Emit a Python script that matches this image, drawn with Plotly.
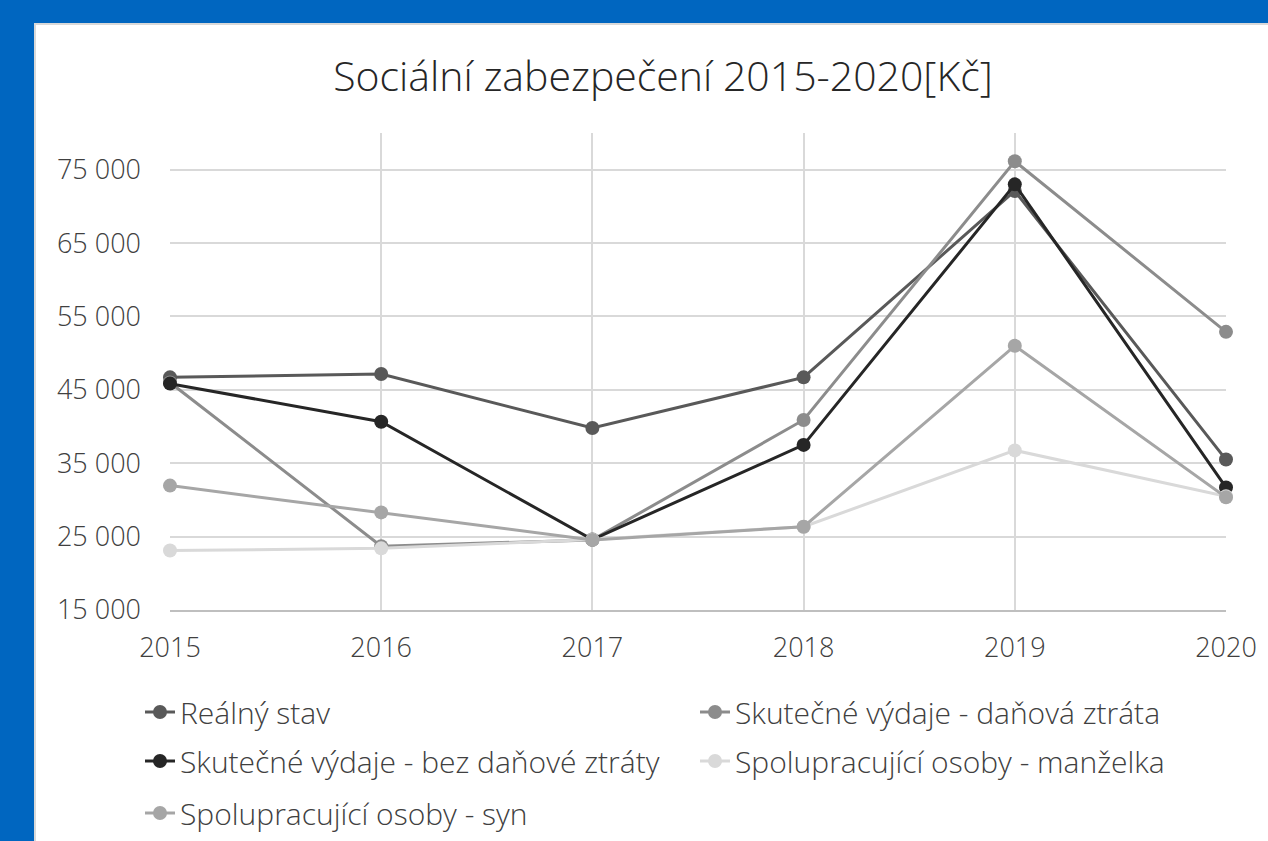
import plotly.graph_objects as go

years = [2015, 2016, 2017, 2018, 2019, 2020]
realny_stav = [46700, 47150, 39800, 46700, 72100, 35500]
danova_ztrata = [46000, 23700, 24550, 40900, 76150, 52900]
bez_danove_ztraty = [45850, 40650, 24600, 37500, 73000, 31700]
manzelka = [23100, 23400, 24600, 26350, 36750, 30500]
syn = [31950, 28300, 24550, 26350, 51000, 30350]

series_names = [
    "Reálný stav",
    "Skutečné výdaje - daňová ztráta",
    "Skutečné výdaje - bez daňové ztráty",
    "Spolupracující osoby - manželka",
    "Spolupracující osoby - syn",
]
series_values = [realny_stav, danova_ztrata, bez_danove_ztraty, manzelka, syn]
series_colors = ["#595959", "#8c8c8c", "#262626", "#d9d9d9", "#a6a6a6"]
series_legends = ["legend", "legend", "legend2", "legend2", "legend3"]

y_tickvals = [15000, 25000, 35000, 45000, 55000, 65000, 75000]
y_ticktext = ["15 000", "25 000", "35 000", "45 000", "55 000", "65 000", "75 000"]
x_ticktext = ["2015", "2016", "2017", "2018", "2019", "2020"]

title_text = "Sociální zabezpečení 2015-2020[Kč]"

FONT = "Open Sans"

fig = go.Figure()
for name, vals, col, lg in zip(series_names, series_values, series_colors, series_legends):
    fig.add_trace(go.Scatter(
        x=years, y=vals, name=name, mode="lines+markers",
        line=dict(color=col, width=3),
        marker=dict(color=col, size=14),
        cliponaxis=False,
        legend=lg,
    ))

# plot area: x 170..1226, y 133..609.5
L, R, T, B = 170, 42, 133, 231
W, H = 1268, 841
pw, ph = W - L - R, H - T - B

def px_x(x):
    return (x - L) / pw

def px_y(y):
    return (H - B - y) / ph

legend_common = dict(
    orientation="h", xanchor="left", yanchor="middle",
    entrywidth=510, entrywidthmode="pixels",
    font=dict(family=FONT, size=30, color="#404040", weight=300),
    bgcolor="rgba(0,0,0,0)", borderwidth=0,
)

fig.update_layout(
    width=W, height=H,
    margin=dict(l=L, r=R, t=T, b=B, pad=0, autoexpand=False),
    paper_bgcolor="#0066C0",
    plot_bgcolor="white",
    title=dict(text=title_text, x=663 / W, xref="container", xanchor="center",
               y=1 - 77 / H, yref="container", yanchor="middle",
               font=dict(family=FONT, size=41, color="#262626", weight=300)),
    shapes=[dict(type="rect", xref="paper", yref="paper", layer="below",
                 x0=px_x(35), x1=px_x(1275), y0=px_y(850), y1=px_y(24),
                 fillcolor="white", line=dict(color="#d9d9d9", width=2))],
    legend=dict(x=px_x(140), y=px_y(712), **legend_common),
    legend2=dict(x=px_x(140), y=px_y(761), **legend_common),
    legend3=dict(x=px_x(140), y=px_y(813), **legend_common),
    showlegend=True,
)

fig.update_xaxes(
    range=[2015, 2020], tickvals=years, ticktext=x_ticktext,
    showgrid=True, gridcolor="#d9d9d9", gridwidth=2,
    showline=True, linecolor="#bfbfbf", linewidth=2,
    zeroline=False, ticks="", ticklabelstandoff=13,
    tickfont=dict(family=FONT, size=27, color="#404040", weight=300),
)
fig.update_yaxes(
    range=[15000, 80000], tickvals=y_tickvals, ticktext=y_ticktext,
    showgrid=True, gridcolor="#d9d9d9", gridwidth=2,
    showline=False, zeroline=False, ticks="", ticklabelstandoff=28,
    tickfont=dict(family=FONT, size=27, color="#404040", weight=300),
)

fig.write_html(
    "out.html",
    config={"displayModeBar": False},
    post_script="document.body.style.margin='0px';document.body.style.overflow='hidden';",
)
